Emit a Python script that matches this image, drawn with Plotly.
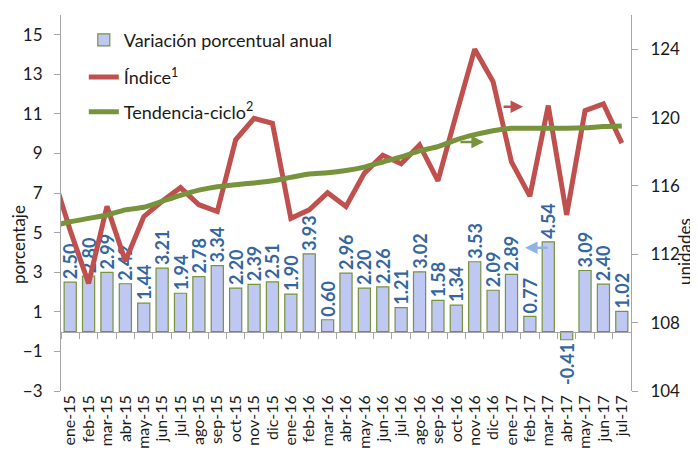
import plotly.graph_objects as go

months = ["ene-15", "feb-15", "mar-15", "abr-15", "may-15", "jun-15", "jul-15", "ago-15",
          "sep-15", "oct-15", "nov-15", "dic-15", "ene-16", "feb-16", "mar-16", "abr-16",
          "may-16", "jun-16", "jul-16", "ago-16", "sep-16", "oct-16", "nov-16", "dic-16",
          "ene-17", "feb-17", "mar-17", "abr-17", "may-17", "jun-17", "jul-17"]

variacion = [2.50, 2.80, 2.99, 2.42, 1.44, 3.21, 1.94, 2.78, 3.34, 2.20, 2.39, 2.51,
             1.90, 3.93, 0.60, 2.96, 2.20, 2.26, 1.21, 3.02, 1.58, 1.34, 3.53, 2.09,
             2.89, 0.77, 4.54, -0.41, 3.09, 2.40, 1.02]

# previous month (dic-14) values: the lines start outside the visible range
indice_dic14 = 116.85
tendencia_dic14 = 113.65

indice = [113.4, 110.3, 114.8, 111.6, 114.2, 115.1, 115.9, 114.9, 114.5, 118.7, 119.95, 119.66,
          114.1, 114.6, 115.6, 114.8, 116.75, 117.8, 117.3, 118.4, 116.3, 120.2, 124.0, 122.1,
          117.4, 115.4, 120.7, 114.3, 120.4, 120.8, 118.5]

tendencia = [113.9, 114.1, 114.3, 114.6, 114.75, 115.1, 115.45, 115.75, 115.95, 116.07, 116.17, 116.3,
             116.5, 116.7, 116.77, 116.9, 117.1, 117.4, 117.7, 118.05, 118.3, 118.7, 119.0, 119.23,
             119.37, 119.37, 119.37, 119.37, 119.4, 119.47, 119.5]

left_ticks = [-3, -1, 1, 3, 5, 7, 9, 11, 13, 15]
right_ticks = [104, 108, 112, 116, 120, 124]

FONT = "Lato"
TXT = "#1a1a1a"
n = len(months)
xs = list(range(n))
xs_line = [-1] + xs

fig = go.Figure()

fig.add_trace(go.Bar(
    x=xs, y=variacion, xaxis="x", yaxis="y",
    name="Variación porcentual anual",
    marker=dict(color="#bfc8f2", line=dict(color="#77933c", width=1.2)),
    width=0.66,
    text=[f"{v:.2f}" for v in variacion], textposition="outside", textangle=-90,
    textfont=dict(family=FONT, size=18, color="#35669e", weight="bold"),
    constraintext="none", cliponaxis=False,
    legend="legend",
))

fig.add_trace(go.Scatter(
    x=xs_line, y=[indice_dic14] + indice, xaxis="x", yaxis="y2", mode="lines",
    name="Índice<sup>1</sup>", line=dict(color="#c0504d", width=5),
    legend="legend2",
))

fig.add_trace(go.Scatter(
    x=xs_line, y=[tendencia_dic14] + tendencia, xaxis="x", yaxis="y2", mode="lines",
    name="Tendencia-ciclo<sup>2</sup>", line=dict(color="#77933c", width=5, shape="spline", smoothing=0.6),
    legend="legend3",
))

# empty helper trace so the bottom category-label axis is drawn
fig.add_trace(go.Scatter(
    x=xs, y=[None] * n, xaxis="x2", yaxis="y", mode="markers",
    showlegend=False, hoverinfo="skip",
))

axis_grey = "#a6a6a6"
tick_font = dict(family=FONT, size=17, color=TXT)
yr = [-3, 16]

# the page body has an 8px margin, so the figure is 8px smaller than the window
fig.update_layout(
    width=690, height=445,
    margin=dict(l=53, r=67, t=7, b=62),
    paper_bgcolor="white", plot_bgcolor="white",
    font=dict(family=FONT, size=17, color=TXT),
    xaxis=dict(
        range=[-0.5, n - 0.5], anchor="free",
        position=(0 - yr[0]) / (yr[1] - yr[0]),
        tickmode="array", tickvals=[i - 0.5 for i in range(n + 1)],
        showticklabels=False, ticks="outside", ticklen=6, tickcolor=axis_grey,
        showline=True, linecolor=axis_grey, linewidth=1, showgrid=False, zeroline=False,
        automargin=False,
    ),
    xaxis2=dict(
        range=[-0.5, n - 0.5], overlaying="x", anchor="y", side="bottom",
        tickmode="array", tickvals=xs, ticktext=months,
        tickangle=-90, showline=False, ticks="", showgrid=False, zeroline=False,
        tickfont=dict(family=FONT, size=16, color=TXT), automargin=False,
    ),
    yaxis=dict(
        range=yr, tickmode="array", tickvals=left_ticks, showgrid=False, zeroline=False,
        showline=True, linecolor=axis_grey, ticks="outside", ticklen=6, tickcolor=axis_grey,
        tickfont=tick_font, ticklabelstandoff=8, automargin=False,
    ),
    yaxis2=dict(
        range=[104, 126], tickmode="array", tickvals=right_ticks, overlaying="y", side="right",
        anchor="x", showgrid=False, zeroline=False, showline=True, linecolor=axis_grey,
        ticks="outside", ticklen=6, tickcolor=axis_grey, tickfont=tick_font, ticklabelstandoff=9,
        automargin=False,
    ),
    legend=dict(x=0.04, y=0.933, xanchor="left", yanchor="middle", bgcolor="rgba(0,0,0,0)",
                font=dict(family=FONT, size=18, color=TXT)),
    legend2=dict(x=0.04, y=0.834, xanchor="left", yanchor="middle", bgcolor="rgba(0,0,0,0)",
                 font=dict(family=FONT, size=18, color=TXT)),
    legend3=dict(x=0.04, y=0.742, xanchor="left", yanchor="middle", bgcolor="rgba(0,0,0,0)",
                 font=dict(family=FONT, size=18, color=TXT)),
    showlegend=True,
)

# axis titles
fig.add_annotation(text="porcentaje", xref="paper", yref="paper", x=-43 / 570, y=(391 - 245) / 376,
                   xanchor="center", yanchor="middle",
                   textangle=-90, showarrow=False, font=dict(family=FONT, size=17, color=TXT))
fig.add_annotation(text="unidades", xref="paper", yref="paper", x=(685 - 61) / 570, y=(391 - 252) / 376,
                   xanchor="center", yanchor="middle",
                   textangle=-90, showarrow=False, font=dict(family=FONT, size=17, color=TXT))

arrows = [
    dict(x=24.63, y=120.63, yref="y2", ax=-21, color="#c0504d"),
    dict(x=22.5, y=118.57, yref="y2", ax=-25, color="#77933c"),
    dict(x=24.74, y=4.24, yref="y", ax=24, color="#8eb4e3"),
]
for a in arrows:
    fig.add_annotation(x=a["x"], y=a["y"], xref="x", yref=a["yref"], ax=a["ax"], ay=0,
                       text="", showarrow=True, arrowhead=2, arrowsize=1, arrowwidth=2.5,
                       arrowcolor=a["color"])

fig.write_html("out.html")
